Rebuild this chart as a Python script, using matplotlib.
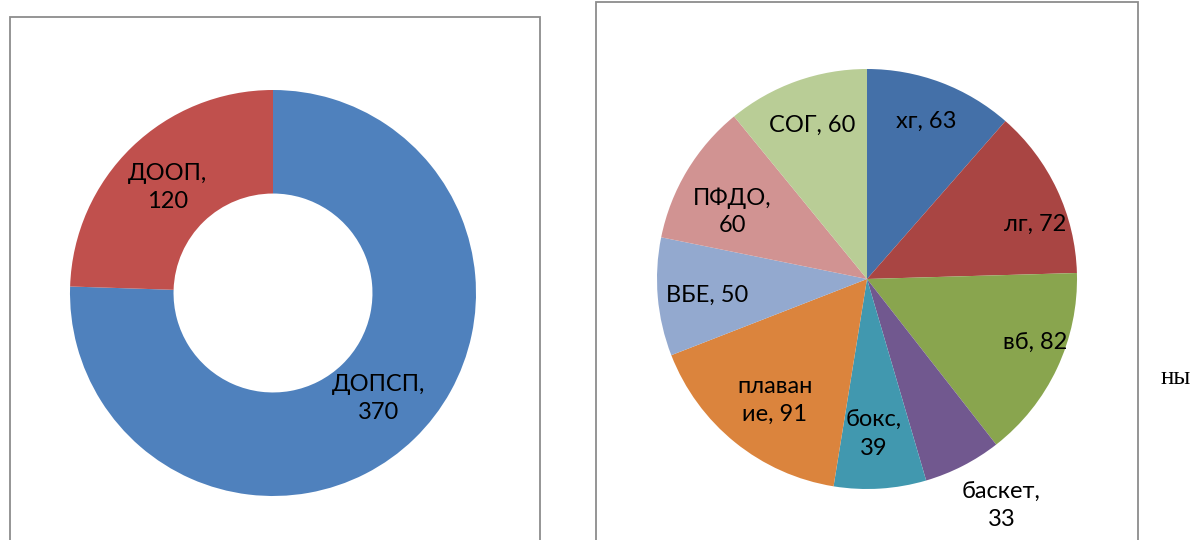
import matplotlib.pyplot as plt
from matplotlib.patches import Rectangle

# Данные: левая кольцевая диаграмма
donut_labels = ['ДОПСП', 'ДООП']
donut_values = [370, 120]
donut_colors = ['#4F81BD', '#C0504D']

# Данные: правая круговая диаграмма
pie_labels = ['хг', 'лг', 'вб', 'баскет', 'бокс', 'плаван\nие', 'ВБЕ', 'ПФДО', 'СОГ']
pie_values = [63, 72, 82, 33, 39, 91, 50, 60, 60]
pie_colors = ['#4470A8', '#A94543', '#89A54E', '#71588F', '#4198AF',
              '#DB843D', '#93A9CF', '#D19392', '#B9CD96']

# Подписи: текст и положение (в радиусах круга)
donut_text = ['ДОПСП,\n370', 'ДООП,\n120']
donut_pos = [(0.52, -0.52), (-0.52, 0.52)]
pie_text = ['хг, 63', 'лг, 72', 'вб, 82', 'баскет,\n33', 'бокс,\n39',
            'плаван\nие, 91', 'ВБЕ, 50', 'ПФДО,\n60', 'СОГ, 60']
pie_pos = [(0.28, 0.75), (0.80, 0.26), (0.80, -0.30), (0.64, -1.08), (0.03, -0.74),
           (-0.44, -0.58), (-0.76, -0.08), (-0.64, 0.32), (-0.26, 0.73)]

W, H = 1195, 540
fig = plt.figure(figsize=(W / 100, H / 100), dpi=100)
font = dict(family='Lato', fontsize=17, color='black', linespacing=1.4)
L = 1.3


def pie_axes(cx, cy, r):
    # оси так, чтобы круг радиуса 1 занимал r пикселей с центром (cx, cy)
    side = 2 * L * r
    ax = fig.add_axes([(cx - side / 2) / W, (H - cy - side / 2) / H, side / W, side / H])
    return ax


# Рамки панелей
for x0, x1, y0 in [(10, 540, 17), (596, 1138, 2)]:
    fig.add_artist(Rectangle((x0 / W, -0.1), (x1 - x0) / W, (H - y0) / H + 0.1,
                             transform=fig.transFigure, fill=False,
                             edgecolor='#8C8C8C', linewidth=1.3))

# Левая: кольцо
ax1 = pie_axes(273, 293, 203)
ax1.pie(donut_values, colors=donut_colors, startangle=90, counterclock=False,
        wedgeprops=dict(width=0.51, linewidth=0))
ax1.set_xlim(-L, L)
ax1.set_ylim(-L, L)
for t, (x, y) in zip(donut_text, donut_pos):
    ax1.text(x, y, t, ha='center', va='center', **font)

# Правая: круг
ax2 = pie_axes(867, 279, 210)
ax2.pie(pie_values, colors=pie_colors, startangle=90, counterclock=False,
        wedgeprops=dict(linewidth=0))
ax2.set_xlim(-L, L)
ax2.set_ylim(-L, L)
for t, (x, y) in zip(pie_text, pie_pos):
    ax2.text(x, y, t, ha='center', va='center', **font)

# Обрывок текста документа справа
fig.text(1176 / W, 1 - 378 / H, 'ны', family='Liberation Serif', fontsize=18,
         ha='center', va='center')

fig.savefig('out.png', dpi=100)
